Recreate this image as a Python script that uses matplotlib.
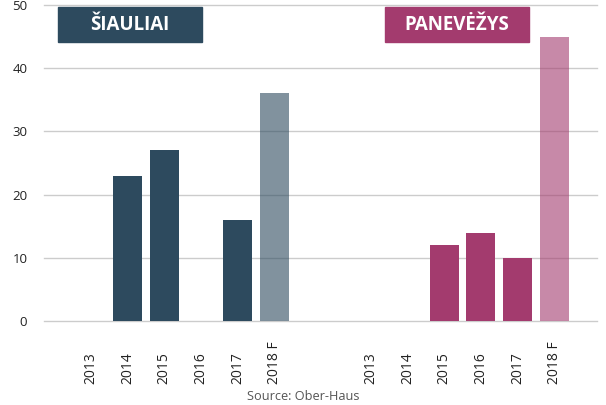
import matplotlib
matplotlib.use("Agg")
import matplotlib.pyplot as plt
from matplotlib.patches import Rectangle

plt.rcParams['font.family'] = ['Open Sans', 'DejaVu Sans']

years_s = ["2013", "2014", "2015", "2016", "2017", "2018 F"]
values_s = [0, 23, 27, 0, 16, 36]
years_p = ["2013", "2014", "2015", "2016", "2017", "2018 F"]
values_p = [0, 0, 12, 14, 10, 45]
city_s = "ŠIAULIAI"
city_p = "PANEVĖŽYS"
source = "Source: Ober-Haus"

dark_s = "#2d4a5e"
dark_p = "#a33b6e"

W, H = 606, 405
fig = plt.figure(figsize=(W/100, H/100), dpi=100)
ax = fig.add_axes([44/W, 1-321/H, (597-44)/W, (321-5)/H])

gap = 7.64
xs = list(range(len(years_s)))
xp = [gap + i for i in range(len(years_p))]
alphas = [1]*5 + [0.6]
for x, v, a in zip(xs, values_s, alphas):
    ax.bar(x, v, width=0.79, color=dark_s, alpha=a, zorder=2)
for x, v, a in zip(xp, values_p, alphas):
    ax.bar(x, v, width=0.79, color=dark_p, alpha=a, zorder=2)

ax.set_ylim(0, 50)
ax.set_yticks(range(0, 51, 10))
ax.set_xlim(-1.28, xp[-1] + 1.17)
ax.set_xticks(xs + xp)
ax.set_xticklabels(years_s + years_p, rotation=90, fontsize=10, color="#222222",
                   va="bottom")
ax.tick_params(axis='both', length=0, colors="#222222")
ax.tick_params(axis='x', pad=45)
ax.tick_params(axis='y', pad=12, labelsize=9.5)
for s in ax.spines.values():
    s.set_visible(False)
ax.yaxis.grid(True, color="#cccccc", linewidth=1)
for gl in ax.get_ygridlines():
    gl.set_clip_on(False)
ax.set_axisbelow(True)

def label_box(x0, x1, y0, y1, color, text):
    fig.patches.append(Rectangle((x0/W, 1-y1/H), (x1-x0)/W, (y1-y0)/H,
                                 transform=fig.transFigure, color=color, zorder=5))
    fig.text((x0+x1)/2/W, 1-(y0+y1)/2/H, text, color="white", fontsize=13.5,
             fontweight="bold", ha="center", va="center", zorder=6)

label_box(58, 202, 7, 42, dark_s, city_s)
label_box(385, 529, 7, 42, dark_p, city_p)

fig.text(0.5, 1-397/H, source, ha="center", va="center", fontsize=9.2, color="#555555")

fig.savefig("out.png", dpi=100)
